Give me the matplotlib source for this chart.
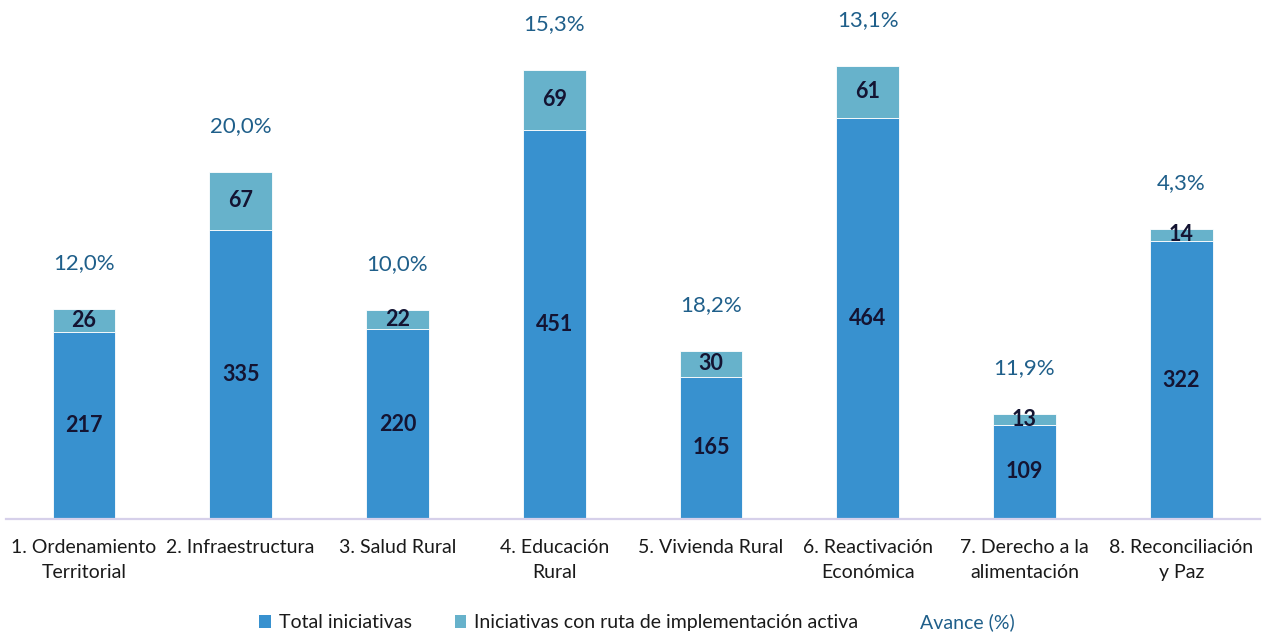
import matplotlib
matplotlib.use("Agg")
import matplotlib.pyplot as plt
from matplotlib.patches import Patch
from matplotlib.lines import Line2D

categories = ["1. Ordenamiento\nTerritorial", "2. Infraestructura", "3. Salud Rural",
              "4. Educación\nRural", "5. Vivienda Rural", "6. Reactivación\nEconómica",
              "7. Derecho a la\nalimentación", "8. Reconciliación\ny Paz"]
total_iniciativas = [217, 335, 220, 451, 165, 464, 109, 322]
ruta_activa = [26, 67, 22, 69, 30, 61, 13, 14]
avance_labels = ["12,0%", "20,0%", "10,0%", "15,3%", "18,2%", "13,1%", "11,9%", "4,3%"]

plt.rcParams['font.family'] = ['Lato', 'DejaVu Sans']

c_total = "#3891CF"
c_ruta = "#67B2CB"
c_avance = "#1F5F8A"
c_num = "#141432"

fig = plt.figure(figsize=(12.62, 6.33), dpi=100)
ax = fig.add_axes([0.0044, 0.18, 0.9937, 0.82])
x = list(range(len(categories)))
w = 0.40
ax.bar(x, total_iniciativas, width=w, color=c_total, edgecolor="white", linewidth=0.6)
ax.bar(x, ruta_activa, width=w, bottom=total_iniciativas, color=c_ruta, edgecolor="white", linewidth=0.6)

for i in x:
    ax.text(i, total_iniciativas[i] / 2, str(total_iniciativas[i]), ha="center", va="center",
            fontsize=15.5, fontweight="bold", color=c_num)
    ax.text(i, total_iniciativas[i] + ruta_activa[i] / 2, str(ruta_activa[i]), ha="center", va="center",
            fontsize=15.5, fontweight="bold", color=c_num)
    ax.annotate(avance_labels[i], (i, total_iniciativas[i] + ruta_activa[i]), xytext=(0, 33),
                textcoords="offset points", ha="center", va="center", fontsize=16, color=c_avance)

ax.set_xlim(-0.5, len(categories) - 0.5)
ax.set_ylim(0, 601)
ax.set_xticks(x)
ax.set_xticklabels(categories, fontsize=14, color="#1a1a1a", linespacing=1.6)
ax.tick_params(axis="x", length=0, pad=14)
ax.set_yticks([])
for s in ["top", "right", "left"]:
    ax.spines[s].set_visible(False)
ax.spines["bottom"].set_color("#D6D0EA")
ax.spines["bottom"].set_linewidth(1.6)

handles = [Patch(facecolor=c_total), Patch(facecolor=c_ruta), Line2D([], [], linestyle="none")]
labels = ["Total iniciativas", "Iniciativas con ruta de implementación activa", "Avance (%)"]
leg = fig.legend(handles, labels, loc="center", bbox_to_anchor=(0.505, 0.017), ncol=3, frameon=False,
                 fontsize=14, handlelength=0.6, handleheight=0.6, handletextpad=0.4, columnspacing=2.2)
for t in leg.get_texts():
    t.set_color("#1a1a1a")
leg.get_texts()[2].set_color(c_avance)

fig.savefig("out.png", dpi=100)
